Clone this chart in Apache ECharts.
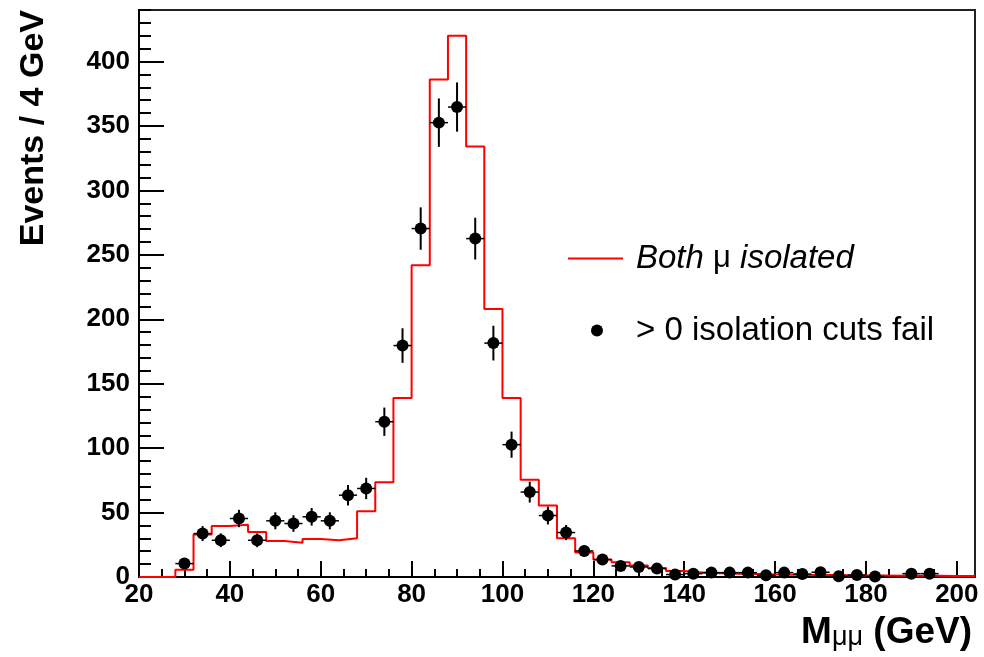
<!DOCTYPE html>
<html><head><meta charset="utf-8">
<script src="https://cdn.jsdelivr.net/npm/echarts@6/dist/echarts.min.js"></script>
<style>html,body{margin:0;padding:0;background:#fff}#c{width:984px;height:657px}</style>
</head><body><div id="c"></div>
<script>
// Histogram bins (left edges, 4 GeV wide) and contents: "Both mu isolated"
const binEdges = [20,24,28,32,36,40,44,48,52,56,60,64,68,72,76,80,84,88,92,96,100,104,108,112,116,120,124,128,132,136,140,144,148,152,156,160,164,168,172,176,180,184,188,192,196,200];
const histValues = [0,0,5.7,33,39.5,40.5,35,28,26.5,29.5,28.5,30,51,73.5,139,242,386,420,334,208,139,75.5,55.5,30,19,13.5,11.5,9,7,4.7,3.4,3,2.6,2.3,2.0,1.8,1.6,1.5,1.3,1.2,1.1,1.0,1.0,0.9,0.8,0.8];
const binWidth = 4;
const xMax = 204;
// Data points: "> 0 isolation cuts fail" (bin centres)
const pointCenters = [30,34,38,42,46,50,54,58,62,66,70,74,78,82,86,90,94,98,102,106,110,114,118,122,126,130,134,138,142,146,150,154,158,162,166,170,174,178,182,190,194];
const pointValues = [10.4,33.7,28.5,45.4,28.5,43.6,41.5,46.7,43.6,63.5,68.7,120.5,179.6,270.4,352.6,364.7,262.6,181.5,102.7,65.9,47.7,34.5,20.2,13.5,8.6,7.8,6.5,1.9,2.6,3.4,3.4,3.4,1.3,3.4,2.3,3.7,0.5,1.5,0.4,2.6,2.6];
// Tick labels
const xMajorTicks = [20,40,60,80,100,120,140,160,180,200];
const yMajorTicks = [0,50,100,150,200,250,300,350,400];
const yMax = 440;

const xMinorTicks = [];
for (let v = 25; v < xMax; v += 5) if (v % 20 !== 0) xMinorTicks.push(v);
const yMinorTicks = [];
for (let v = 10; v <= yMax; v += 10) if (v % 50 !== 0) yMinorTicks.push(v);

const histData = binEdges.map((e, i) => [e, histValues[i]]);
histData.push([xMax, histValues[histValues.length - 1]]);
const pointData = pointCenters.map((c, i) => [c, pointValues[i]]);
const errData = pointCenters.map((c, i) => [c, pointValues[i], Math.sqrt(pointValues[i])]);

const FONT = '"Liberation Sans", Arial, Helvetica, sans-serif';
const chart = echarts.init(document.getElementById('c'));
chart.setOption({
  animation: false,
  backgroundColor: '#fff',
  grid: { left: 139, right: 9, top: 10, bottom: 80, show: true, borderColor: '#222', borderWidth: 2, backgroundColor: 'transparent' },
  xAxis: [
    { type: 'value', min: 20, max: xMax, position: 'bottom',
      axisLine: { show: true, lineStyle: { color: '#000', width: 2 } },
      axisTick: { show: true, inside: true, length: 16, customValues: xMajorTicks, lineStyle: { color: '#000', width: 2 } },
      axisLabel: { customValues: xMajorTicks, color: '#000', fontSize: 26, fontWeight: 'bold', fontFamily: FONT, margin: 5 },
      splitLine: { show: false } },
    { type: 'value', min: 20, max: xMax, position: 'bottom', gridIndex: 0,
      axisLine: { show: false },
      axisTick: { show: true, inside: true, length: 8, customValues: xMinorTicks, lineStyle: { color: '#000', width: 2 } },
      axisLabel: { show: false }, splitLine: { show: false } }
  ],
  yAxis: [
    { type: 'value', min: 0, max: yMax, position: 'left',
      axisLine: { show: true, lineStyle: { color: '#000', width: 2 } },
      axisTick: { show: true, inside: true, length: 25, customValues: yMajorTicks, lineStyle: { color: '#000', width: 2 } },
      axisLabel: { customValues: yMajorTicks, color: '#000', fontSize: 26, fontWeight: 'bold', fontFamily: FONT, margin: 9 },
      splitLine: { show: false } },
    { type: 'value', min: 0, max: yMax, position: 'left', gridIndex: 0,
      axisLine: { show: false },
      axisTick: { show: true, inside: true, length: 12, customValues: yMinorTicks, lineStyle: { color: '#000', width: 2 } },
      axisLabel: { show: false }, splitLine: { show: false } }
  ],
  legend: [
    { data: ['Both μ isolated'], left: 563, top: 237, icon: 'rect', itemWidth: 55, itemHeight: 2,
      itemStyle: { color: '#ff0000' },
      formatter: () => '{i|Both }{m|μ}{i| isolated}',
      textStyle: { color: '#000', fontFamily: FONT, fontSize: 33, padding: [0, 0, 0, 8],
        rich: { i: { fontStyle: 'italic', fontSize: 33, fontFamily: FONT, color: '#000' },
                m: { fontSize: 31, fontFamily: FONT, color: '#000' } } } },
    { data: ['> 0 isolation cuts fail'], left: 586, top: 309, icon: 'circle', itemWidth: 12, itemHeight: 12,
      itemStyle: { color: '#000', opacity: 1 },
      textStyle: { color: '#000', fontFamily: FONT, fontSize: 33, padding: [0, 0, 0, 28] } }
  ],
  graphic: [
    { type: 'text', x: 34, y: 10, rotation: Math.PI / 2,
      style: { text: 'Events / 4 GeV', fontSize: 34, fontWeight: 'bold', fontFamily: FONT, fill: '#000', align: 'right', verticalAlign: 'middle' } },
    { type: 'text', x: 972, y: 630,
      style: { text: '{a|M}{b|μμ}{a| (GeV)}', align: 'right', verticalAlign: 'middle',
        rich: { a: { fontSize: 37, fontWeight: 'bold', fontFamily: FONT, fill: '#000', color: '#000', lineHeight: 42, verticalAlign: 'bottom' },
                b: { fontSize: 27, fontFamily: FONT, fill: '#000', color: '#000', lineHeight: 42, verticalAlign: 'bottom' } } } }
  ],
  series: [
    { name: 'Both μ isolated', type: 'line', step: 'end', data: histData, symbol: 'none', showSymbol: false,
      lineStyle: { color: '#ff0000', width: 2 }, itemStyle: { color: '#ff0000' }, z: 2 },
    { name: 'errors', type: 'custom', data: errData, z: 3,
      renderItem: (params, api) => {
        const x = api.value(0), y = api.value(1), e = api.value(2);
        const t = api.coord([x, y + e]), b = api.coord([x, Math.max(0, y - e)]);
        const l = api.coord([x - binWidth / 2, y]), r = api.coord([x + binWidth / 2, y]);
        return { type: 'group', children: [
          { type: 'line', shape: { x1: t[0], y1: t[1], x2: b[0], y2: b[1] }, style: { stroke: '#000', lineWidth: 2 } },
          { type: 'line', shape: { x1: l[0], y1: l[1], x2: r[0], y2: r[1] }, style: { stroke: '#000', lineWidth: 1.5 } }
        ] };
      } },
    { name: '> 0 isolation cuts fail', type: 'scatter', data: pointData, symbol: 'circle', symbolSize: 12,
      itemStyle: { color: '#000', opacity: 1 }, z: 4 }
  ]
});
</script></body></html>
